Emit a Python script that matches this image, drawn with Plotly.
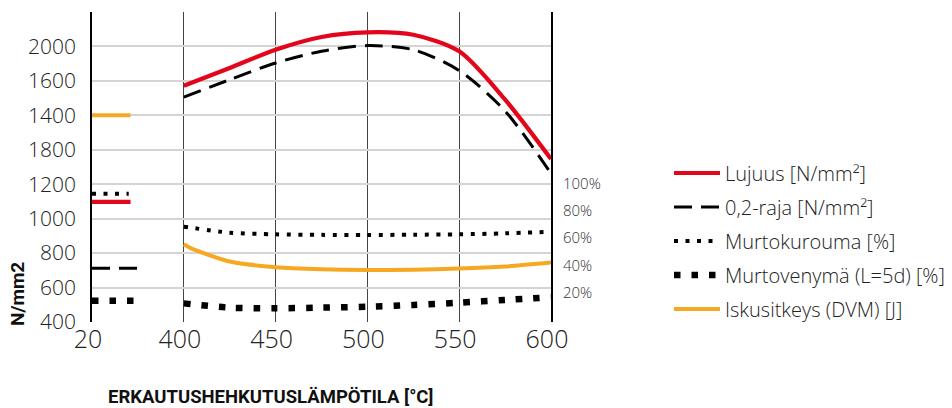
import plotly.graph_objects as go

# ---------------- data ----------------
temps = [400, 425, 450, 475, 500, 525, 550, 575, 600]
lujuus = [1772, 1875, 1981, 2055, 2082, 2068, 1972, 1691, 1346]
raja = [1706, 1807, 1904, 1972, 2005, 1981, 1860, 1625, 1262]
murtokurouma = [68.3, 63.9, 62.7, 62.3, 62.2, 62.4, 62.7, 63.4, 64.6]
murtovenyma = [12.2, 9.1, 8.6, 9.1, 9.8, 11.0, 12.7, 14.7, 16.7]
iskusitkeys_temps = [400, 405, 410, 425, 450, 475, 500, 525, 550, 575, 600]
iskusitkeys = [852, 823, 803, 751, 718, 706, 702, 704, 710, 722, 745]

# values at room temperature (20 °C)
lujuus_20 = 1098
raja_20 = 712
murtokurouma_20 = 92.4
murtovenyma_20 = 14.2
iskusitkeys_20 = 1600

room_temp_slot = 350  # axis slot where the 20 °C column starts

x_tick_vals = [350, 400, 450, 500, 550, 600]
x_tick_text = ["20", "400", "450", "500", "550", "600"]
y_tick_vals = [400, 600, 800, 1000, 1200, 1400, 1600, 1800, 2000, 2200]
y_tick_text = ["400", "600", "800", "1000", "1200", "1800", "1400", "1600", "2000", ""]
pct_tick_vals = [20, 40, 60, 80, 100]
pct_tick_text = ["20%", "40%", "60%", "80%", "100%"]

names = {
    "lujuus": "Lujuus [N/mm²]",
    "raja": "0,2-raja [N/mm²]",
    "kurouma": "Murtokurouma [%]",
    "venyma": "Murtovenymä (L=5d) [%]",
    "isku": "Iskusitkeys (DVM) [J]",
}

# ---------------- styles ----------------
RED = "#e3061b"
ORANGE = "#f7a823"
styles = {
    "lujuus": dict(color=RED, width=4.2, dash="solid"),
    "raja": dict(color="black", width=3, dash="18px,9px"),
    "kurouma": dict(color="black", width=4, dash="4px,7.5px"),
    "venyma": dict(color="black", width=6.5, dash="6.5px,11px"),
    "isku": dict(color=ORANGE, width=4, dash="solid"),
}
seg_len = {"lujuus": 21, "raja": 25, "kurouma": 20, "venyma": 25, "isku": 21}

FONT = "Open Sans"
fig = go.Figure()

series = [
    ("lujuus", temps, lujuus, lujuus_20, "y"),
    ("raja", temps, raja, raja_20, "y"),
    ("kurouma", temps, murtokurouma, murtokurouma_20, "y2"),
    ("venyma", temps, murtovenyma, murtovenyma_20, "y2"),
    ("isku", iskusitkeys_temps, iskusitkeys, iskusitkeys_20, "y"),
]

for i, (key, xs, ys, v20, yax) in enumerate(series):
    fig.add_trace(go.Scatter(
        x=xs, y=ys, mode="lines", name=names[key], yaxis=yax,
        line=dict(shape="spline", smoothing=0.8, **styles[key]),
        legendgroup=key, legendrank=i + 1,
    ))
    fig.add_trace(go.Scatter(
        x=[room_temp_slot, room_temp_slot + seg_len[key]], y=[v20, v20],
        mode="lines", yaxis=yax, showlegend=False, legendgroup=key,
        line=styles[key], hoverinfo="skip",
    ))

fig.update_layout(
    width=952, height=408,
    margin=dict(l=92, r=401, t=12, b=86, autoexpand=False),
    paper_bgcolor="white", plot_bgcolor="white",
    font=dict(family=FONT, color="#222"),
    xaxis=dict(
        range=[350, 600], tickvals=x_tick_vals, ticktext=x_tick_text,
        tickfont=dict(size=25, weight=300, color="#222"),
        showgrid=True, gridcolor="#444", gridwidth=1,
        showline=False, ticks="", zeroline=False, ticklabelshift=-4,
    ),
    yaxis=dict(
        range=[400, 2200], tickvals=y_tick_vals, ticktext=y_tick_text,
        tickfont=dict(size=21, weight=300, color="#222"),
        showgrid=True, gridcolor="#d4d4d4", gridwidth=1.5,
        showline=True, linecolor="black", linewidth=1.5, mirror=True,
        ticks="", zeroline=False, ticklabelstandoff=10,
    ),
    yaxis2=dict(
        overlaying="y", side="right", range=[-1.4, 225.2],
        tickvals=pct_tick_vals, ticktext=pct_tick_text,
        tickfont=dict(size=15, weight=300, color="#333"),
        showgrid=False, showline=False, zeroline=False, ticks="",
        ticklabelstandoff=11,
    ),
    showlegend=True,
    legend=dict(
        x=(669 - 92) / 459, xanchor="left", y=(322 - 241) / 310, yanchor="middle",
        font=dict(size=20, weight=300, color="#222"),
        tracegroupgap=5, itemwidth=46, bgcolor="rgba(0,0,0,0)",
        traceorder="grouped",
    ),
    annotations=[
        dict(text="<b>ERKAUTUSHEHKUTUSLÄMPÖTILA [°C]</b>", xref="paper", yref="paper",
             x=(106 - 92) / 459, y=-(397 - 322) / 310, xanchor="left", yanchor="middle",
             showarrow=False, font=dict(family="Roboto", size=18.5, color="#111")),
        dict(text="<b>N/mm2</b>", xref="paper", yref="paper",
             x=-(92 - 17) / 459, y=(322 - 294) / 310, xanchor="center", yanchor="middle",
             textangle=-90, showarrow=False, font=dict(family="Roboto", size=19, color="#111")),
    ],
)

fig.write_html("out.html", config={"displayModeBar": False},
               post_script="document.body.style.margin='0px';")
